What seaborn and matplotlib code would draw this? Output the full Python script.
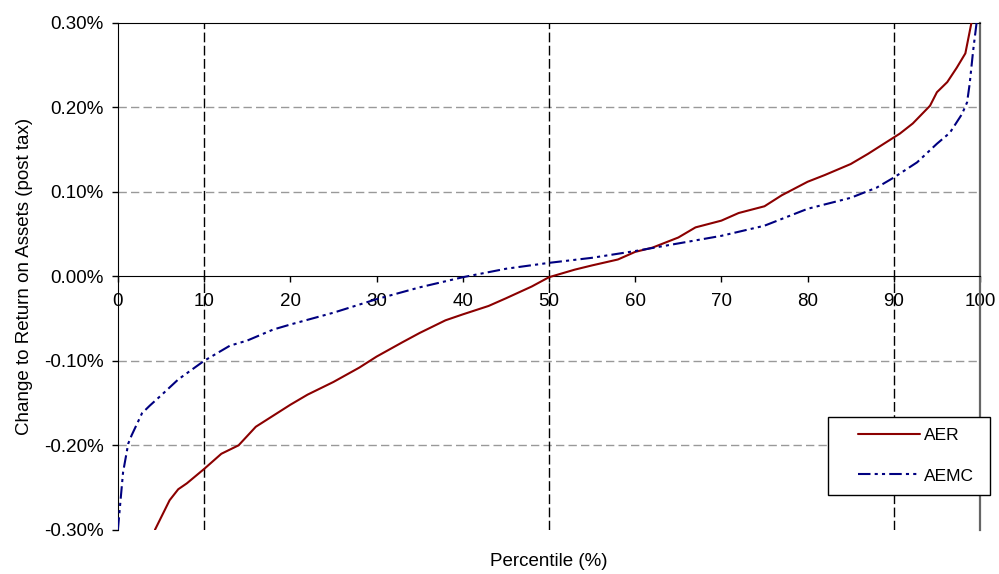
import matplotlib
matplotlib.use("Agg")
import matplotlib.pyplot as plt
import pandas as pd
import seaborn as sns
from matplotlib.patches import Rectangle
from matplotlib.ticker import PercentFormatter

# percentile vs change to return on assets (values in %)
aer_pct = [4.3, 6, 7, 8, 10, 12, 14, 16, 18, 20, 22, 25, 28, 30, 33, 35, 38, 40, 43, 45,
           48, 50, 53, 55, 58, 60, 62, 65, 67, 70, 72, 75, 77, 80, 82, 85, 87, 89, 90.7,
           92.2, 94.2, 95, 96.2, 97.3, 98.3, 99]
aer_val = [-0.300, -0.265, -0.252, -0.245, -0.228, -0.210, -0.200, -0.178, -0.165, -0.152,
           -0.140, -0.125, -0.108, -0.095, -0.078, -0.067, -0.052, -0.045, -0.035, -0.026,
           -0.012, -0.001, 0.008, 0.013, 0.020, 0.029, 0.034, 0.046, 0.058, 0.066, 0.075,
           0.083, 0.096, 0.112, 0.120, 0.133, 0.145, 0.158, 0.169, 0.181, 0.202, 0.218,
           0.230, 0.247, 0.264, 0.300]

aemc_pct = [0, 0.6, 1.2, 1.6, 2.8, 3.7, 5, 7, 10, 13, 15, 18, 20, 25, 30, 35, 40, 45, 50,
            55, 60, 65, 70, 75, 80, 85, 88, 90, 92.7, 95, 96.5, 97.9, 98.5, 98.8, 99.2, 99.6]
aemc_val = [-0.300, -0.232, -0.198, -0.188, -0.162, -0.153, -0.141, -0.122, -0.100, -0.082,
            -0.076, -0.063, -0.057, -0.043, -0.027, -0.013, -0.001, 0.009, 0.016, 0.022,
            0.030, 0.039, 0.048, 0.060, 0.080, 0.093, 0.105, 0.117, 0.135, 0.157, 0.170,
            0.192, 0.206, 0.228, 0.267, 0.300]

df = pd.concat([
    pd.DataFrame({"pct": aer_pct, "val": aer_val, "series": "AER"}),
    pd.DataFrame({"pct": aemc_pct, "val": aemc_val, "series": "AEMC"}),
])

sns.set_style("white")
plt.rcParams["font.family"] = ["Liberation Sans", "DejaVu Sans"]
plt.rcParams["font.size"] = 13.5
plt.rcParams["axes.unicode_minus"] = False
plt.rcParams["text.color"] = "black"
plt.rcParams["axes.labelcolor"] = "black"
plt.rcParams["xtick.color"] = "black"
plt.rcParams["ytick.color"] = "black"

fig = plt.figure(figsize=(9.99, 5.74), dpi=100)
ax = fig.add_axes([0.118, 0.077, 0.863, 0.883])

# reference lines
for gy in [-0.2, -0.1, 0.1, 0.2]:
    ax.axhline(gy, color="#999999", lw=1, dashes=(6, 3), zorder=1)
for gx in [10, 50, 90]:
    ax.axvline(gx, color="black", lw=1, dashes=(7, 2.5), zorder=1)

sns.lineplot(data=df, x="pct", y="val", hue="series", style="series",
             palette={"AER": "#8B0000", "AEMC": "#000080"},
             dashes={"AER": "", "AEMC": (6, 2, 1.5, 2, 1.5, 2)},
             lw=1.5, sort=False, ax=ax, zorder=3)

ax.set_xlim(0, 100)
ax.set_ylim(-0.3, 0.3)
ax.set_xticks(range(0, 101, 10))
ax.set_yticks([-0.3, -0.2, -0.1, 0.0, 0.1, 0.2, 0.3])
ax.yaxis.set_major_formatter(PercentFormatter(xmax=100, decimals=2))

ax.spines["bottom"].set_position(("data", 0))
ax.spines["bottom"].set_color("black")
ax.spines["left"].set_color("black")
ax.spines["top"].set_color("black")
ax.spines["right"].set_color("#666666")
ax.spines["right"].set_linewidth(1.6)
for s in ax.spines.values():
    s.set_zorder(2)

ax.tick_params(axis="both", direction="out", length=4, width=1, color="black",
               labelsize=13.5, pad=6, bottom=True, left=True)
ax.tick_params(axis="x", pad=8)

ax.set_xlabel("Percentile (%)", fontsize=13.5)
ax.xaxis.set_label_coords(0.5, -0.045)
ax.set_ylabel("Change to Return on Assets (post tax)", fontsize=13.5, labelpad=8)

# legend box drawn separately so the entries can sit inside it like the original
box = Rectangle((0.824, 0.069), 0.188, 0.154, transform=ax.transAxes,
                facecolor="white", edgecolor="black", lw=1, clip_on=False, zorder=4)
ax.add_patch(box)
handles, labels = ax.get_legend_handles_labels()
leg = ax.legend(handles, labels, loc="center left",
                bbox_to_anchor=(0.85, 0.146), borderaxespad=0,
                frameon=False, handlelength=3.6, labelspacing=1.45,
                handletextpad=0.2, fontsize=12.5)
leg.set_zorder(5)

fig.savefig("out.png", dpi=100)
